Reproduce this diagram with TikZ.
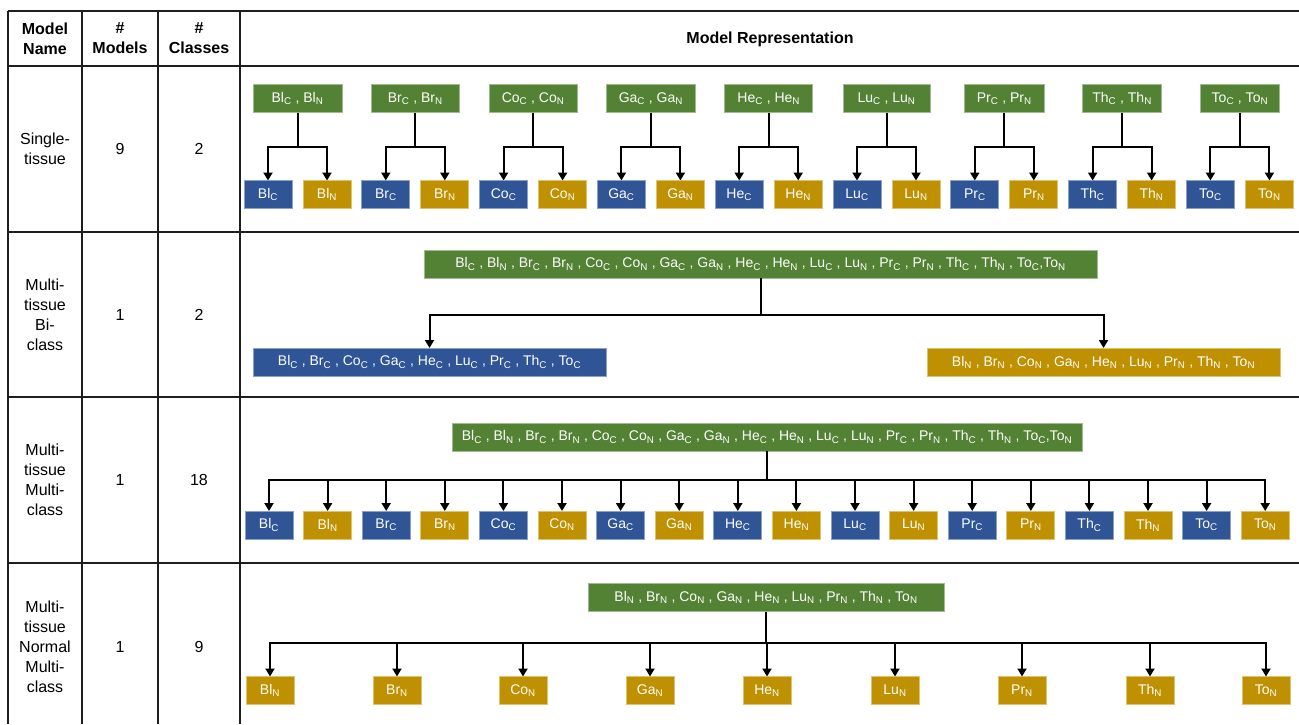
\documentclass[tikz,border=0pt]{standalone}
\usepackage{fontspec}
\setmainfont{Liberation Sans}
\usepackage{tikz}
\usetikzlibrary{arrows.meta,positioning,calc}
\definecolor{groupgreen}{RGB}{84,130,53}
\definecolor{cancerblue}{RGB}{47,85,151}
\definecolor{normalgold}{RGB}{191,144,0}
\definecolor{gridgray}{RGB}{30,30,30}
\newcommand{\boxfont}{\fontsize{14}{16}\selectfont}
\newcommand{\cellfont}{\fontsize{16}{20}\selectfont}
\newcommand{\tis}[2]{#1\textsubscript{#2}}
\tikzset{
  grpbox/.style={fill=groupgreen, draw=groupgreen!55!white, line width=0.8pt,
    minimum height=28pt, inner sep=0pt, outer sep=0pt, text=white, font=\boxfont},
  cbox/.style={fill=cancerblue, draw=cancerblue!55!white, line width=0.8pt,
    minimum height=28pt, minimum width=48pt, inner sep=0pt, outer sep=0pt, text=white, font=\boxfont},
  nbox/.style={cbox, fill=normalgold, draw=normalgold!55!white},
  link/.style={line width=2pt, black},
  arrowlink/.style={link, -{Triangle[length=8pt,width=9pt]}},
  gridline/.style={line width=1.4pt, gridgray},
  cell/.style={align=center, font=\cellfont, inner sep=0pt},
  headcell/.style={cell, font=\cellfont\bfseries}
}

\begin{document}
\begin{tikzpicture}[x=1pt, y=-1pt]
  \useasboundingbox (0,0) rectangle (1299,724);

  % table grid
  \foreach \yy in {11,66,232,397,563}
    \draw[gridline] (8,\yy) -- (1299,\yy);
  \foreach \xx in {8,82,158,240}
    \draw[gridline] (\xx,11) -- (\xx,724);

  % header
  \node[headcell] (hName) at (45,38.5) {Model\\Name};
  \node[headcell] (hModels) at (120,38.5) {\#\\Models};
  \node[headcell] (hClasses) at (199,38.5) {\#\\Classes};
  \node[headcell] (hRep) at (770,39) {Model Representation};

  % left columns
  \node[cell] (r1Name) at (45,149) {Single-\\tissue};
  \node[cell] (r1Models) at (120,149) {9};
  \node[cell] (r1Classes) at (199,149) {2};
  \node[cell] (r2Name) at (45,315) {Multi-\\tissue\\Bi-\\class};
  \node[cell] (r2Models) at (120,315) {1};
  \node[cell] (r2Classes) at (199,315) {2};
  \node[cell] (r3Name) at (45,480) {Multi-\\tissue\\Multi-\\class};
  \node[cell] (r3Models) at (120,480) {1};
  \node[cell] (r3Classes) at (199,480) {18};
  \node[cell] (r4Name) at (45,647) {Multi-\\tissue\\Normal\\Multi-\\class};
  \node[cell] (r4Models) at (120,647) {1};
  \node[cell] (r4Classes) at (199,647) {9};

  % single-tissue models
  \foreach \t/\w [count=\i from 0] in {Bl/89,Br/88,Co/88,Ga/89,He/88,Lu/87,Pr/80,Th/79,To/79} {
    \node[grpbox, minimum width=\w pt] (s\t) at ({297.5+117.8*\i},98.5) {\tis{\t}{C} , \tis{\t}{N}};
    \node[cbox] (s\t C) at ({268+117.8*\i},194.5) {\tis{\t}{C}};
    \node[nbox] (s\t N) at ({327+117.8*\i},194.5) {\tis{\t}{N}};
    \coordinate (s\t J) at (s\t.south |- 0,147);
    \draw[link] (s\t) -- (s\t J);
    \draw[arrowlink] (s\t J) -| (s\t C);
    \draw[arrowlink] (s\t J) -| (s\t N);
  }

  % multi-tissue bi-class
  \node[grpbox, minimum width=673pt] (bi) at (760.5,264)
    {\tis{Bl}{C} , \tis{Bl}{N} , \tis{Br}{C} , \tis{Br}{N} , \tis{Co}{C} , \tis{Co}{N} , \tis{Ga}{C} , \tis{Ga}{N} , \tis{He}{C} , \tis{He}{N} , \tis{Lu}{C} , \tis{Lu}{N} , \tis{Pr}{C} , \tis{Pr}{N} , \tis{Th}{C} , \tis{Th}{N} , \tis{To}{C},\tis{To}{N}};
  \node[cbox, minimum width=353pt] (biC) at (429.5,362)
    {\tis{Bl}{C} , \tis{Br}{C} , \tis{Co}{C} , \tis{Ga}{C} , \tis{He}{C} , \tis{Lu}{C} , \tis{Pr}{C} , \tis{Th}{C} , \tis{To}{C}};
  \node[nbox, minimum width=353pt] (biN) at (1103.5,362)
    {\tis{Bl}{N} , \tis{Br}{N} , \tis{Co}{N} , \tis{Ga}{N} , \tis{He}{N} , \tis{Lu}{N} , \tis{Pr}{N} , \tis{Th}{N} , \tis{To}{N}};
  \coordinate (biJ) at (bi.south |- 0,315);
  \draw[link] (bi) -- (biJ);
  \draw[arrowlink] (biJ) -| (biC);
  \draw[arrowlink] (biJ) -| (biN);

  % multi-tissue multi-class
  \node[grpbox, minimum width=630pt] (mc) at (767,437)
    {\tis{Bl}{C} , \tis{Bl}{N} , \tis{Br}{C} , \tis{Br}{N} , \tis{Co}{C} , \tis{Co}{N} , \tis{Ga}{C} , \tis{Ga}{N} , \tis{He}{C} , \tis{He}{N} , \tis{Lu}{C} , \tis{Lu}{N} , \tis{Pr}{C} , \tis{Pr}{N} , \tis{Th}{C} , \tis{Th}{N} , \tis{To}{C},\tis{To}{N}};
  \coordinate (mcJ) at (mc.south |- 0,480);
  \draw[link] (mc) -- (mcJ);
  \foreach \t [count=\i from 0] in {Bl,Br,Co,Ga,He,Lu,Pr,Th,To} {
    \node[cbox] (mc\t C) at ({269+117.2*\i},525) {\tis{\t}{C}};
    \node[nbox] (mc\t N) at ({327.6+117.2*\i},525) {\tis{\t}{N}};
    \draw[arrowlink] (mcJ) -| (mc\t C);
    \draw[arrowlink] (mcJ) -| (mc\t N);
  }

  % multi-tissue normal multi-class
  \node[grpbox, minimum width=356pt] (nm) at (766,597.5)
    {\tis{Bl}{N} , \tis{Br}{N} , \tis{Co}{N} , \tis{Ga}{N} , \tis{He}{N} , \tis{Lu}{N} , \tis{Pr}{N} , \tis{Th}{N} , \tis{To}{N}};
  \coordinate (nmJ) at (nm.south |- 0,643);
  \draw[link] (nm) -- (nmJ);
  \foreach \t/\xx in {Bl/270,Br/397,Co/523,Ga/650,He/767,Lu/895,Pr/1022,Th/1150,To/1266} {
    \node[nbox] (nm\t) at (\xx,690.5) {\tis{\t}{N}};
    \draw[arrowlink] (nmJ) -| (nm\t);
  }
\end{tikzpicture}
\end{document}
